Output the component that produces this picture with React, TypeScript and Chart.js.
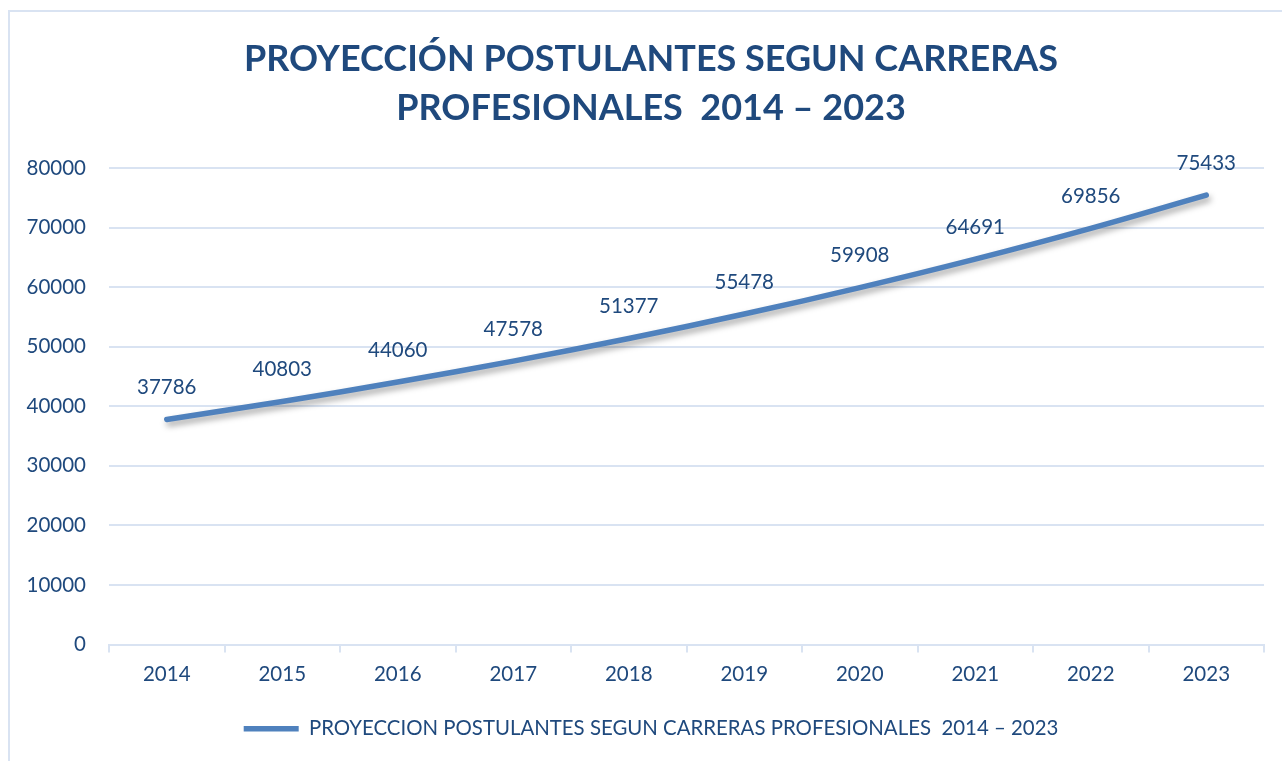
import React, { useEffect, useRef } from "react";
import { Chart, registerables } from "chart.js";

Chart.register(...registerables);

const titleLines = ["PROYECCIÓN POSTULANTES SEGUN CARRERAS", "PROFESIONALES  2014 – 2023"];
const seriesLabel = "PROYECCION POSTULANTES SEGUN CARRERAS PROFESIONALES  2014 – 2023";
const years = ["2014", "2015", "2016", "2017", "2018", "2019", "2020", "2021", "2022", "2023"];
const postulantes = [37786, 40803, 44060, 47578, 51377, 55478, 59908, 64691, 69856, 75433];

const TEXT = "#1f497d";
const LINE = "#4f81bd";
const GRID = "#d9e3f2";
const FONT = "Lato, 'Open Sans', sans-serif";

const frame = {
  id: "frame",
  beforeDraw(chart: any) {
    const ctx = chart.ctx;
    ctx.save();
    ctx.fillStyle = "#ffffff";
    ctx.fillRect(0, 0, chart.width, chart.height);
    ctx.strokeStyle = GRID;
    ctx.lineWidth = 2;
    ctx.beginPath();
    ctx.moveTo(9, chart.height + 5);
    ctx.lineTo(9, 11);
    ctx.lineTo(chart.width + 5, 11);
    ctx.stroke();
    ctx.restore();
  },
};

const lineShadow = {
  id: "lineShadow",
  beforeDatasetDraw(chart: any) {
    const ctx = chart.ctx;
    ctx.save();
    ctx.shadowColor = "rgba(0,0,0,0.35)";
    ctx.shadowBlur = 6;
    ctx.shadowOffsetX = 2;
    ctx.shadowOffsetY = 4;
  },
  afterDatasetDraw(chart: any) {
    chart.ctx.restore();
  },
};

const dataLabels = {
  id: "dataLabels",
  afterDatasetsDraw(chart: any) {
    const ctx = chart.ctx;
    const meta = chart.getDatasetMeta(0);
    const data = chart.data.datasets[0].data as number[];
    ctx.save();
    ctx.fillStyle = TEXT;
    ctx.font = `20.5px ${FONT}`;
    ctx.textAlign = "center";
    ctx.textBaseline = "middle";
    meta.data.forEach((pt: any, i: number) => {
      ctx.fillText(String(data[i]), pt.x, pt.y - 32);
    });
    ctx.restore();
  },
};

export default function App() {
  const ref = useRef<HTMLCanvasElement>(null);
  useEffect(() => {
    if (!ref.current) return;
    const chart = new Chart(ref.current, {
      type: "line",
      data: {
        labels: years,
        datasets: [
          {
            label: seriesLabel,
            data: postulantes,
            borderColor: LINE,
            backgroundColor: LINE,
            borderWidth: 5.5,
            borderCapStyle: "round",
            pointRadius: 0,
            pointHoverRadius: 0,
            pointStyle: "line",
            tension: 0.35,
            fill: false,
            yAxisID: "y",
          },
        ],
      },
      options: {
        animation: false,
        responsive: true,
        maintainAspectRatio: false,
        layout: { padding: { left: 20, right: 0, top: 0, bottom: 12 } },
        plugins: {
          title: {
            display: true,
            text: titleLines,
            color: TEXT,
            font: { family: FONT, size: 36, weight: "bold", lineHeight: 1.36 },
            padding: { top: 35, bottom: 35 },
          },
          legend: {
            position: "bottom",
            labels: {
              color: TEXT,
              font: { family: FONT, size: 20.4 },
              usePointStyle: true,
              pointStyle: "line",
              pointStyleWidth: 55,
              boxHeight: 18,
              padding: 10,
            },
          },
          tooltip: { enabled: false },
        },
        scales: {
          x: {
            offset: true,
            grid: {
              offset: true,
              drawOnChartArea: false,
              drawTicks: true,
              tickLength: 8,
              color: GRID,
              lineWidth: 2,
            },
            border: { display: true, color: GRID, width: 2 },
            ticks: { color: TEXT, font: { family: FONT, size: 20.5 }, padding: 9 },
            afterFit(scale: any) {
              scale.height = 64;
            },
          },
          y: {
            min: 0,
            max: 80000,
            ticks: {
              stepSize: 10000,
              color: TEXT,
              font: { family: FONT, size: 20.5 },
              padding: 23,
              callback: (v: any) => String(v),
            },
            grid: { color: GRID, lineWidth: 2, drawTicks: false },
            border: { display: false },
            afterFit(scale: any) {
              scale.width = 89;
            },
          },
          yRight: {
            position: "right",
            display: true,
            min: 0,
            max: 80000,
            grid: { display: false, drawTicks: false },
            border: { display: false },
            ticks: { display: false },
            afterFit(scale: any) {
              scale.width = 18;
            },
          },
        },
      },
      plugins: [frame, lineShadow, dataLabels],
    });
    return () => chart.destroy();
  }, []);
  return (
    <div style={{ position: "fixed", left: 0, top: 0, width: 1282, height: 761, background: "#fff" }}>
      <canvas ref={ref} />
    </div>
  );
}
